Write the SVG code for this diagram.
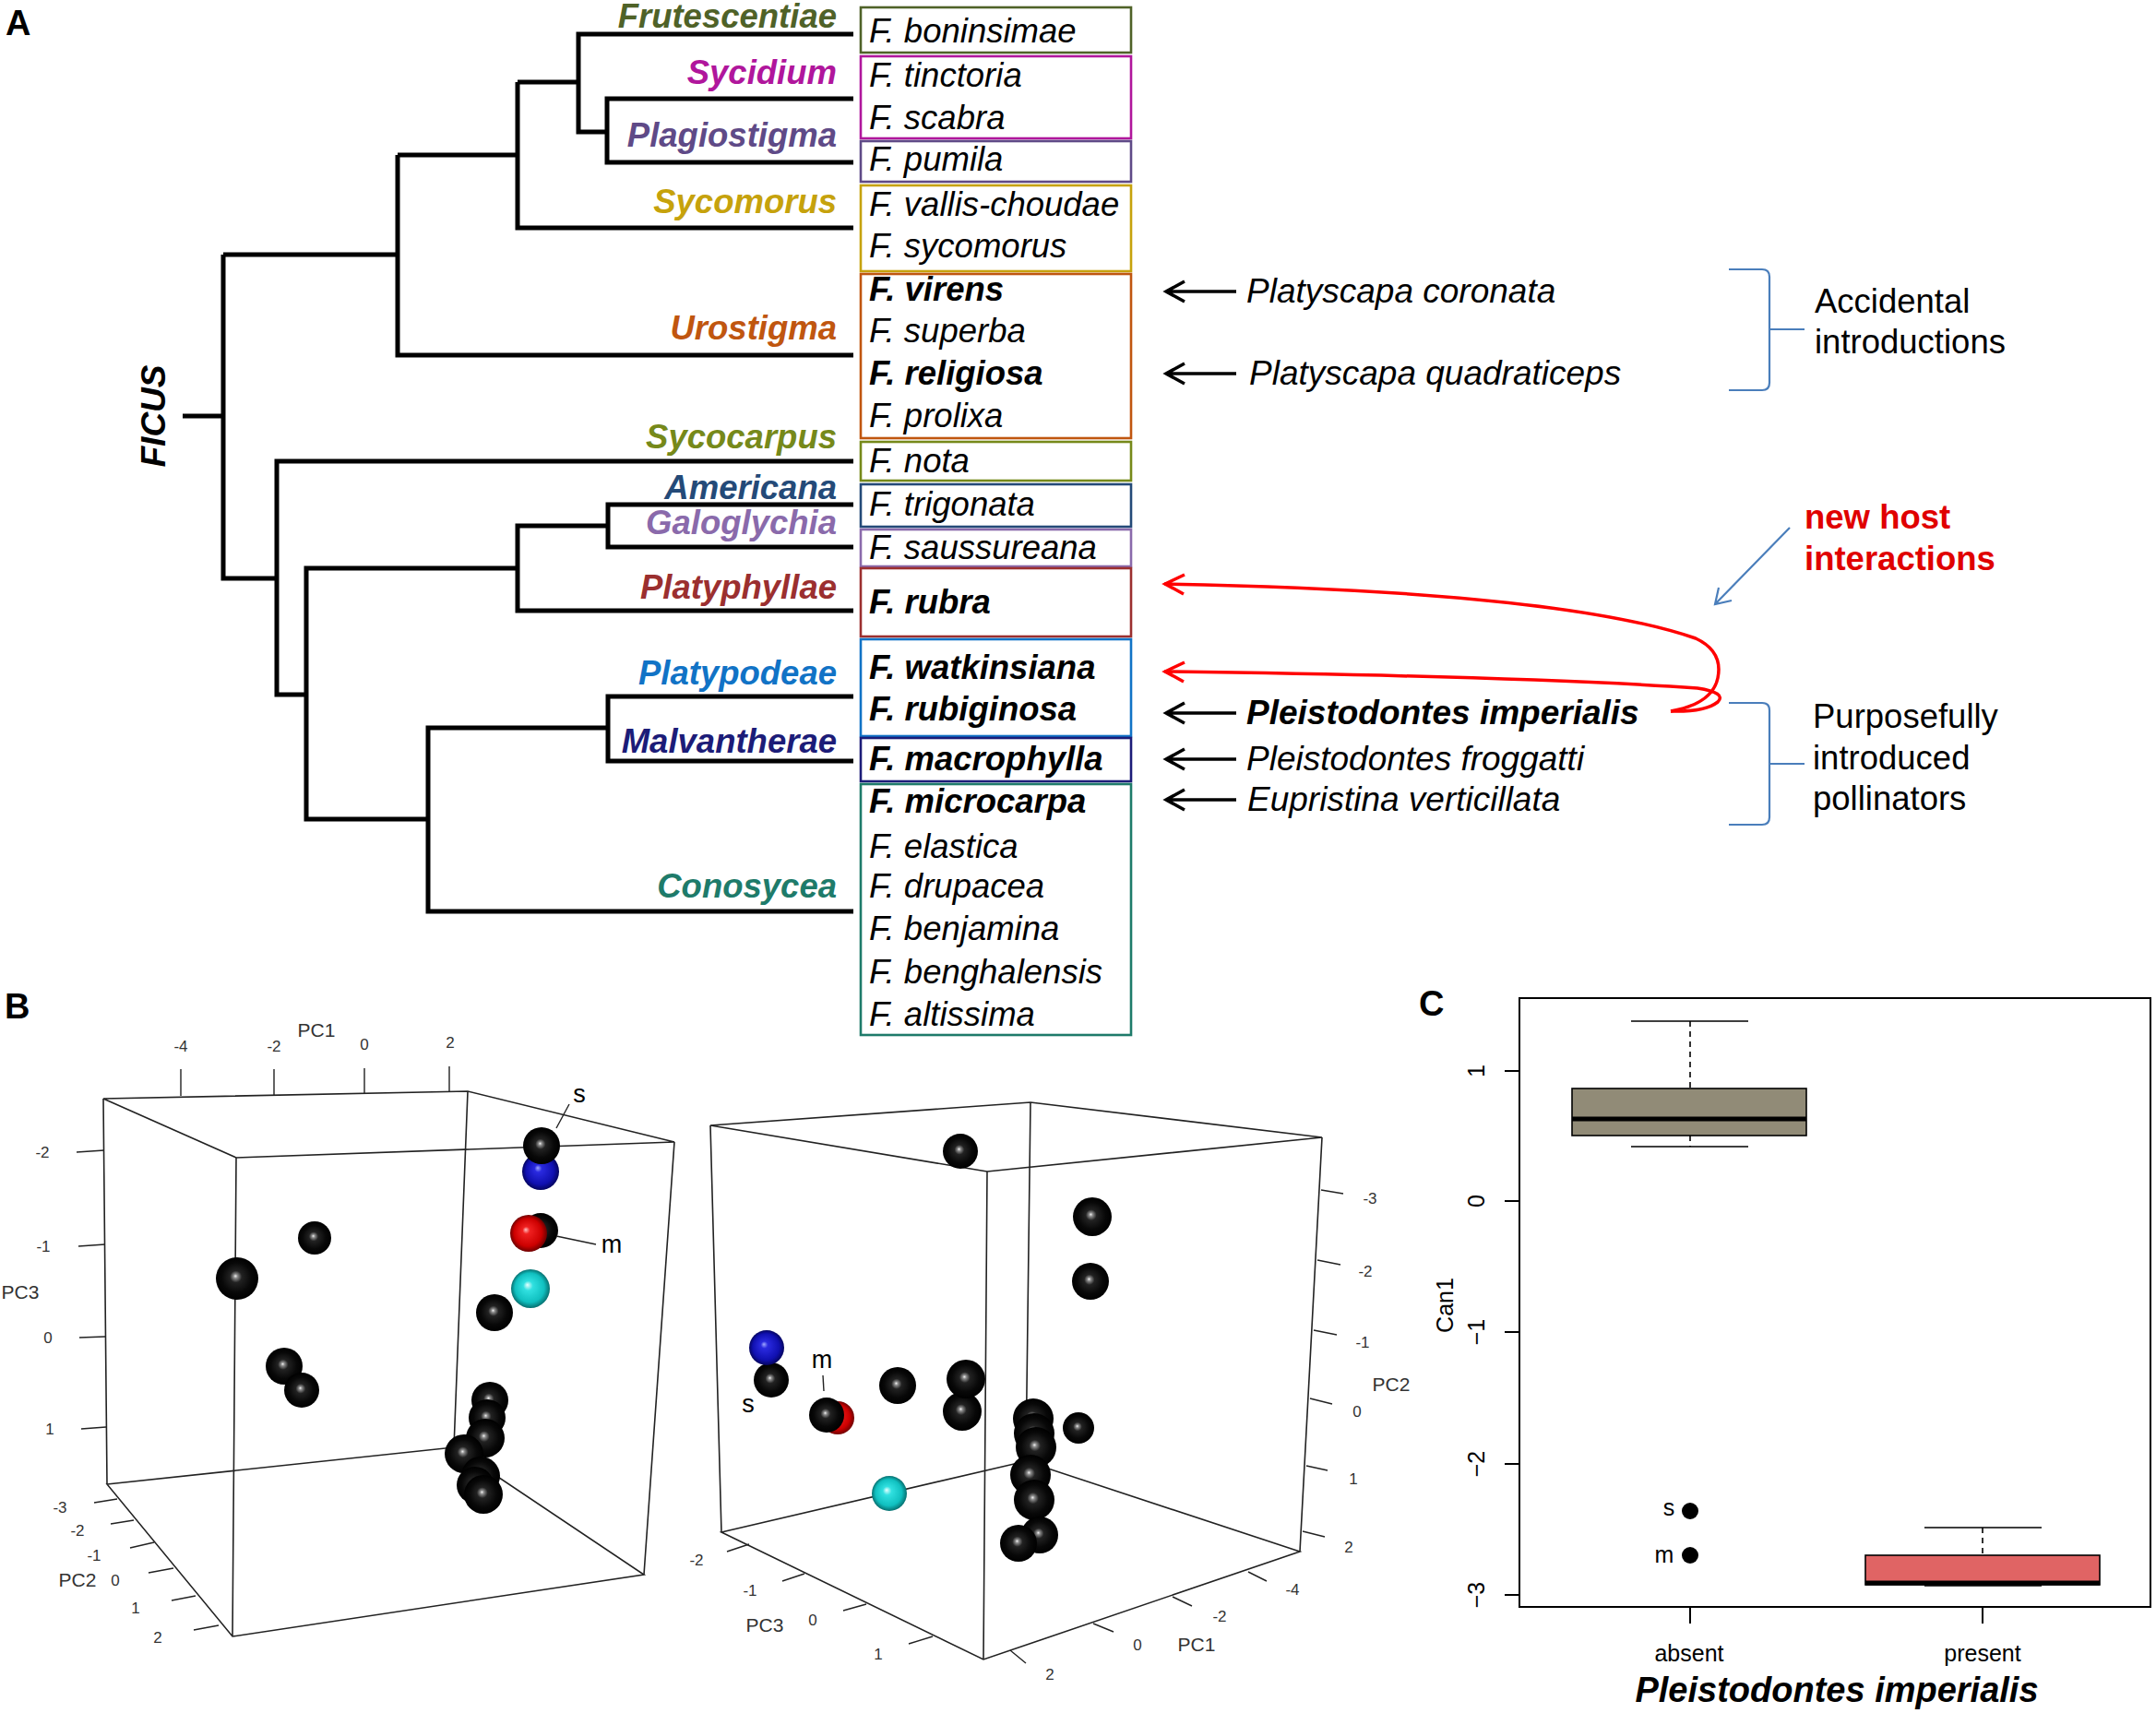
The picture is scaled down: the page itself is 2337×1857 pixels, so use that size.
<svg xmlns="http://www.w3.org/2000/svg" width="2337" height="1857" viewBox="0 0 2337 1857">
<style>
text{font-family:"Liberation Sans",Arial,Helvetica,sans-serif}
.it{font-style:italic}
.bd{font-weight:bold}
.tax{font-size:36.5px;font-style:italic;fill:#000}
.cl{font-size:36.5px;font-style:italic;font-weight:bold;text-anchor:end}
.tree{fill:none;stroke:#000;stroke-width:5;stroke-linejoin:miter}
.box{fill:none;stroke-width:2.6}
.arr{fill:none;stroke:#000;stroke-width:3.5}
.red{fill:none;stroke:#f00;stroke-width:3.5}
.blu{fill:none;stroke:#4a7ebb;stroke-width:2.2}
.cube{fill:none;stroke:#222;stroke-width:1.6}
.tk{fill:none;stroke:#222;stroke-width:1.4}
.tl{font-size:17px;fill:#333;text-anchor:middle}
.al{font-size:21px;fill:#333;text-anchor:middle}
.ax{fill:none;stroke:#000;stroke-width:2}
.cap{font-size:38px;font-weight:bold}
.pol{font-size:37px;font-style:italic}
.note{font-size:36.5px}
</style>
<defs>
<radialGradient id="gK" cx="0.5" cy="0.5" r="0.5" fx="0.46" fy="0.44">
<stop offset="0" stop-color="#f0f0f0"/><stop offset="0.1" stop-color="#8a8a8a"/><stop offset="0.28" stop-color="#222"/><stop offset="0.7" stop-color="#080808"/><stop offset="1" stop-color="#000"/>
</radialGradient>
<radialGradient id="gB" cx="0.5" cy="0.5" r="0.5" fx="0.42" fy="0.4">
<stop offset="0" stop-color="#a0a8ff"/><stop offset="0.2" stop-color="#2a2ae0"/><stop offset="0.75" stop-color="#1010b0"/><stop offset="1" stop-color="#050560"/>
</radialGradient>
<radialGradient id="gR" cx="0.5" cy="0.5" r="0.5" fx="0.42" fy="0.4">
<stop offset="0" stop-color="#ffc0c0"/><stop offset="0.2" stop-color="#f02020"/><stop offset="0.75" stop-color="#cc0000"/><stop offset="1" stop-color="#700000"/>
</radialGradient>
<radialGradient id="gC" cx="0.5" cy="0.5" r="0.5" fx="0.42" fy="0.4">
<stop offset="0" stop-color="#e8ffff"/><stop offset="0.25" stop-color="#30e0e0"/><stop offset="0.75" stop-color="#10c0c0"/><stop offset="1" stop-color="#067070"/>
</radialGradient>
</defs>
<rect width="2337" height="1857" fill="#fff"/>

<!-- Panel A -->
<text class="cap" x="6" y="38">A</text>

<g id="tree">
<path class="tree" d="M925,37 H627 V143 H658"/>
<path class="tree" d="M925,107 H658 V176 H925"/>
<path class="tree" d="M627,89 H561"/>
<path class="tree" d="M561,89 V247 H925"/>
<path class="tree" d="M561,168 H431"/>
<path class="tree" d="M431,168 V385 H925"/>
<path class="tree" d="M431,276 H242"/>
<path class="tree" d="M242,276 V627 H300"/>
<path class="tree" d="M198,451 H242"/>
<path class="tree" d="M925,500 H300 V753 H332"/>
<path class="tree" d="M561,616 H332 V888 H464"/>
<path class="tree" d="M659,570 H561 V662 H925"/>
<path class="tree" d="M925,547 H659 V593 H925"/>
<path class="tree" d="M659,789 H464 V988 H925"/>
<path class="tree" d="M925,755 H659 V825 H925"/>
<text class="bd it" font-size="37" transform="translate(179,451) rotate(-90)" text-anchor="middle">FICUS</text>
</g>

<g id="clade-labels">
<text class="cl" x="907" y="30" fill="#4f6228">Frutescentiae</text>
<text class="cl" x="907" y="91" fill="#b0169c">Sycidium</text>
<text class="cl" x="907" y="159" fill="#5f4a87">Plagiostigma</text>
<text class="cl" x="907" y="231" fill="#c6a20c">Sycomorus</text>
<text class="cl" x="907" y="368" fill="#c0560f">Urostigma</text>
<text class="cl" x="907" y="486" fill="#76891a">Sycocarpus</text>
<text class="cl" x="907" y="541" fill="#244a78">Americana</text>
<text class="cl" x="907" y="579" fill="#8a6aab">Galoglychia</text>
<text class="cl" x="907" y="649" fill="#9b2f2f">Platyphyllae</text>
<text class="cl" x="907" y="742" fill="#1173c6">Platypodeae</text>
<text class="cl" x="907" y="816" fill="#1c1c78">Malvantherae</text>
<text class="cl" x="907" y="973" fill="#1e7b6a">Conosycea</text>
</g>

<g id="taxa-boxes">
<rect class="box" x="933" y="8" width="293" height="49" stroke="#4f6228"/>
<rect class="box" x="933" y="61" width="293" height="89" stroke="#b0169c"/>
<rect class="box" x="933" y="153" width="293" height="44" stroke="#5f4a87"/>
<rect class="box" x="933" y="201" width="293" height="93" stroke="#c6a20c"/>
<rect class="box" x="933" y="297" width="293" height="178" stroke="#c0560f"/>
<rect class="box" x="933" y="479" width="293" height="42" stroke="#76891a"/>
<rect class="box" x="933" y="525" width="293" height="46" stroke="#244a78"/>
<rect class="box" x="933" y="574" width="293" height="40" stroke="#8a6aab"/>
<rect class="box" x="933" y="616" width="293" height="74" stroke="#9b2f2f"/>
<rect class="box" x="933" y="693" width="293" height="105" stroke="#1173c6"/>
<rect class="box" x="933" y="800" width="293" height="47" stroke="#1c1c78"/>
<rect class="box" x="933" y="850" width="293" height="272" stroke="#1e7b6a"/>
</g>

<g id="taxa">
<text class="tax" x="942" y="46">F. boninsimae</text>
<text class="tax" x="942" y="94">F. tinctoria</text>
<text class="tax" x="942" y="140">F. scabra</text>
<text class="tax" x="942" y="185">F. pumila</text>
<text class="tax" x="942" y="234">F. vallis-choudae</text>
<text class="tax" x="942" y="279">F. sycomorus</text>
<text class="tax bd" x="942" y="326">F. virens</text>
<text class="tax" x="942" y="371">F. superba</text>
<text class="tax bd" x="942" y="417">F. religiosa</text>
<text class="tax" x="942" y="463">F. prolixa</text>
<text class="tax" x="942" y="512">F. nota</text>
<text class="tax" x="942" y="559">F. trigonata</text>
<text class="tax" x="942" y="606">F. saussureana</text>
<text class="tax bd" x="942" y="665">F. rubra</text>
<text class="tax bd" x="942" y="736">F. watkinsiana</text>
<text class="tax bd" x="942" y="781">F. rubiginosa</text>
<text class="tax bd" x="942" y="835">F. macrophylla</text>
<text class="tax bd" x="942" y="881">F. microcarpa</text>
<text class="tax" x="942" y="930">F. elastica</text>
<text class="tax" x="942" y="973">F. drupacea</text>
<text class="tax" x="942" y="1019">F. benjamina</text>
<text class="tax" x="942" y="1066">F. benghalensis</text>
<text class="tax" x="942" y="1112">F. altissima</text>
</g>

<g id="connectors">
<path class="arr" d="M1340,316 H1265 M1284,305 L1264,316 L1284,327"/>
<path class="arr" d="M1340,405 H1265 M1284,394 L1264,405 L1284,416"/>
<path class="arr" d="M1340,773 H1265 M1284,762 L1264,773 L1284,784"/>
<path class="arr" d="M1340,823 H1265 M1284,812 L1264,823 L1284,834"/>
<path class="arr" d="M1340,867 H1265 M1284,856 L1264,867 L1284,878"/>
<path class="red" d="M1262,633 Q1690,641 1838,692 Q1868,706 1862,735 Q1856,763 1811,771"/>
<path class="red" d="M1284,623 L1263,633 L1283,644"/>
<path class="red" d="M1262,728 Q1650,733 1840,746 Q1872,751 1862,761 Q1848,772 1811,771"/>
<path class="red" d="M1284,718 L1263,728 L1283,739"/>
<path class="blu" d="M1940,572 L1859,655 M1877,651 L1859,655 L1863,637"/>
<path class="blu" d="M1874,292 H1910 Q1918,292 1918,300 V415 Q1918,423 1910,423 H1874 M1918,357 H1956"/>
<path class="blu" d="M1874,762 H1910 Q1918,762 1918,770 V886 Q1918,894 1910,894 H1874 M1918,828 H1956"/>
</g>

<g id="pollinators">
<text class="pol" x="1351" y="328">Platyscapa coronata</text>
<text class="pol" x="1354" y="417">Platyscapa quadraticeps</text>
<text class="pol bd" x="1351" y="785">Pleistodontes imperialis</text>
<text class="pol" x="1351" y="835">Pleistodontes froggatti</text>
<text class="pol" x="1352" y="879">Eupristina verticillata</text>
</g>

<g id="notes">
<text class="note" x="1967" y="339">Accidental</text>
<text class="note" x="1967" y="383">introductions</text>
<text class="note" x="1965" y="789">Purposefully</text>
<text class="note" x="1965" y="834">introduced</text>
<text class="note" x="1965" y="878">pollinators</text>
<text class="bd note" x="1956" y="573" fill="#e00000">new host</text>
<text class="bd note" x="1956" y="618" fill="#e00000">interactions</text>
</g>

<!-- Panel B -->
<text class="cap" x="5" y="1104">B</text>

<g id="plot-b-left">
<path class="cube" d="M112,1191 L507,1183 L731,1238 L256,1255 Z"/>
<path class="cube" d="M112,1191 L116,1609 M256,1255 L252,1774 M731,1238 L698,1707 M507,1183 L492,1569"/>
<path class="cube" d="M116,1609 L492,1569 L698,1707 L252,1774 Z"/>
<path class="tk" d="M196,1159 V1188 M297,1159 V1187 M395,1158 V1185 M487,1156 V1183"/>
<path class="tk" d="M83,1249 L113,1247 M85,1351 L114,1349 M86,1450 L114,1449 M88,1549 L115,1547"/>
<path class="tk" d="M102,1629 L127,1625 M120,1652 L145,1648 M141,1678 L167,1672 M161,1705 L188,1700 M186,1735 L212,1730 M210,1767 L237,1762"/>
<text class="tl" x="196" y="1140">-4</text>
<text class="tl" x="297" y="1140">-2</text>
<text class="tl" x="395" y="1138">0</text>
<text class="tl" x="488" y="1136">2</text>
<text class="al" x="343" y="1124">PC1</text>
<text class="tl" x="46" y="1255">-2</text>
<text class="tl" x="47" y="1357">-1</text>
<text class="tl" x="52" y="1456">0</text>
<text class="tl" x="54" y="1555">1</text>
<text class="al" x="22" y="1408">PC3</text>
<text class="tl" x="65" y="1640">-3</text>
<text class="tl" x="84" y="1665">-2</text>
<text class="tl" x="102" y="1692">-1</text>
<text class="tl" x="125" y="1719">0</text>
<text class="tl" x="147" y="1749">1</text>
<text class="tl" x="171" y="1781">2</text>
<text class="al" x="84" y="1720">PC2</text>
<circle cx="341" cy="1342" r="18" fill="url(#gK)"/>
<circle cx="257" cy="1386" r="23" fill="url(#gK)"/>
<circle cx="308" cy="1481" r="20" fill="url(#gK)"/>
<circle cx="327" cy="1507" r="19" fill="url(#gK)"/>
<circle cx="536" cy="1423" r="20" fill="url(#gK)"/>
<circle cx="575" cy="1397" r="21" fill="url(#gC)"/>
<circle cx="586" cy="1334" r="19" fill="url(#gK)"/>
<circle cx="573" cy="1337" r="20" fill="url(#gR)"/>
<circle cx="586" cy="1270" r="20" fill="url(#gB)"/>
<circle cx="587" cy="1242" r="20" fill="url(#gK)"/>
<circle cx="531" cy="1518" r="20" fill="url(#gK)"/>
<circle cx="528" cy="1537" r="20" fill="url(#gK)"/>
<circle cx="526" cy="1559" r="21" fill="url(#gK)"/>
<circle cx="503" cy="1576" r="21" fill="url(#gK)"/>
<circle cx="521" cy="1600" r="21" fill="url(#gK)"/>
<circle cx="515" cy="1610" r="20" fill="url(#gK)"/>
<circle cx="524" cy="1620" r="21" fill="url(#gK)"/>
<path class="tk" d="M617,1197 L603,1223 M603,1340 L646,1349"/>
<text font-size="27" x="628" y="1195" text-anchor="middle">s</text>
<text font-size="27" x="663" y="1358" text-anchor="middle">m</text>
</g>

<g id="plot-b-right">
<path class="cube" d="M770,1220 L1117,1195 L1433,1233 L1070,1270 Z"/>
<path class="cube" d="M770,1220 L782,1661 M1070,1270 L1066,1799 M1433,1233 L1409,1682 M1117,1195 L1112,1584"/>
<path class="cube" d="M782,1661 L1112,1584 L1409,1682 L1066,1799 Z"/>
<path class="tk" d="M1432,1290 L1456,1294 M1428,1366 L1453,1371 M1424,1442 L1449,1447 M1420,1516 L1444,1522 M1416,1589 L1439,1594 M1412,1660 L1436,1666"/>
<path class="tk" d="M1353,1704 L1373,1714 M1271,1731 L1292,1741 M1185,1760 L1207,1769 M1095,1789 L1112,1803"/>
<path class="tk" d="M812,1674 L788,1682 M872,1706 L848,1714 M939,1739 L914,1746 M1011,1774 L985,1782"/>
<text class="tl" x="1485" y="1305">-3</text>
<text class="tl" x="1480" y="1384">-2</text>
<text class="tl" x="1477" y="1461">-1</text>
<text class="tl" x="1471" y="1536">0</text>
<text class="tl" x="1467" y="1609">1</text>
<text class="tl" x="1462" y="1683">2</text>
<text class="al" x="1508" y="1508">PC2</text>
<text class="tl" x="1401" y="1729">-4</text>
<text class="tl" x="1322" y="1758">-2</text>
<text class="tl" x="1233" y="1789">0</text>
<text class="tl" x="1138" y="1821">2</text>
<text class="al" x="1297" y="1790">PC1</text>
<text class="tl" x="755" y="1697">-2</text>
<text class="tl" x="813" y="1730">-1</text>
<text class="tl" x="881" y="1762">0</text>
<text class="tl" x="952" y="1799">1</text>
<text class="al" x="829" y="1769">PC3</text>
<circle cx="1041" cy="1248" r="19" fill="url(#gK)"/>
<circle cx="1184" cy="1319" r="21" fill="url(#gK)"/>
<circle cx="1182" cy="1389" r="20" fill="url(#gK)"/>
<circle cx="836" cy="1496" r="19" fill="url(#gK)"/>
<circle cx="831" cy="1461" r="19" fill="url(#gB)"/>
<circle cx="908" cy="1537" r="18" fill="url(#gR)"/>
<circle cx="896" cy="1534" r="19" fill="url(#gK)"/>
<circle cx="973" cy="1502" r="20" fill="url(#gK)"/>
<circle cx="1043" cy="1530" r="21" fill="url(#gK)"/>
<circle cx="1047" cy="1495" r="21" fill="url(#gK)"/>
<circle cx="964" cy="1619" r="19" fill="url(#gC)"/>
<circle cx="1169" cy="1548" r="17" fill="url(#gK)"/>
<circle cx="1120" cy="1538" r="22" fill="url(#gK)"/>
<circle cx="1121" cy="1554" r="22" fill="url(#gK)"/>
<circle cx="1123" cy="1569" r="22" fill="url(#gK)"/>
<circle cx="1117" cy="1599" r="22" fill="url(#gK)"/>
<circle cx="1121" cy="1626" r="22" fill="url(#gK)"/>
<circle cx="1127" cy="1664" r="20" fill="url(#gK)"/>
<circle cx="1104" cy="1673" r="20" fill="url(#gK)"/>
<path class="tk" d="M892,1491 L893,1508"/>
<text font-size="27" x="891" y="1483" text-anchor="middle">m</text>
<text font-size="27" x="811" y="1531" text-anchor="middle">s</text>
</g>

<!-- Panel C -->
<text class="cap" x="1538" y="1101">C</text>
<g id="plot-c">
<rect class="ax" x="1647" y="1082" width="684" height="660"/>
<path class="ax" d="M1631,1161 H1647 M1631,1302 H1647 M1631,1444 H1647 M1631,1587 H1647 M1631,1729 H1647"/>
<path class="ax" d="M1832,1742 V1760 M2149,1742 V1760"/>
<g font-size="25" text-anchor="middle">
<text transform="translate(1609,1161) rotate(-90)">1</text>
<text transform="translate(1609,1302) rotate(-90)">0</text>
<text transform="translate(1609,1444) rotate(-90)">−1</text>
<text transform="translate(1609,1587) rotate(-90)">−2</text>
<text transform="translate(1609,1729) rotate(-90)">−3</text>
<text transform="translate(1575,1415) rotate(-90)">Can1</text>
<text x="1831" y="1801">absent</text>
<text x="2149" y="1801">present</text>
</g>
<text class="bd it" font-size="38" x="1991" y="1845" text-anchor="middle">Pleistodontes imperialis</text>
<path fill="none" stroke="#000" stroke-width="1.6" d="M1768,1107 H1895 M1768,1243 H1895 M2086,1656 H2213 M2086,1719 H2213"/>
<path fill="none" stroke="#000" stroke-width="1.6" stroke-dasharray="6,5" d="M1832,1107 V1180 M1832,1231 V1243 M2149,1656 V1686"/>
<rect x="1704" y="1180" width="254" height="51" fill="#918b77" stroke="#000" stroke-width="1.6"/>
<path stroke="#000" stroke-width="5" d="M1704,1213 H1958"/>
<rect x="2022" y="1686" width="254" height="32" fill="#e06464" stroke="#000" stroke-width="1.6"/>
<path stroke="#000" stroke-width="5" d="M2022,1716 H2276"/>
<circle cx="1832" cy="1638" r="9" fill="#000"/>
<circle cx="1832" cy="1686" r="9" fill="#000"/>
<text font-size="25" x="1809" y="1643" text-anchor="middle">s</text>
<text font-size="25" x="1804" y="1694" text-anchor="middle">m</text>
</g>
</svg>
